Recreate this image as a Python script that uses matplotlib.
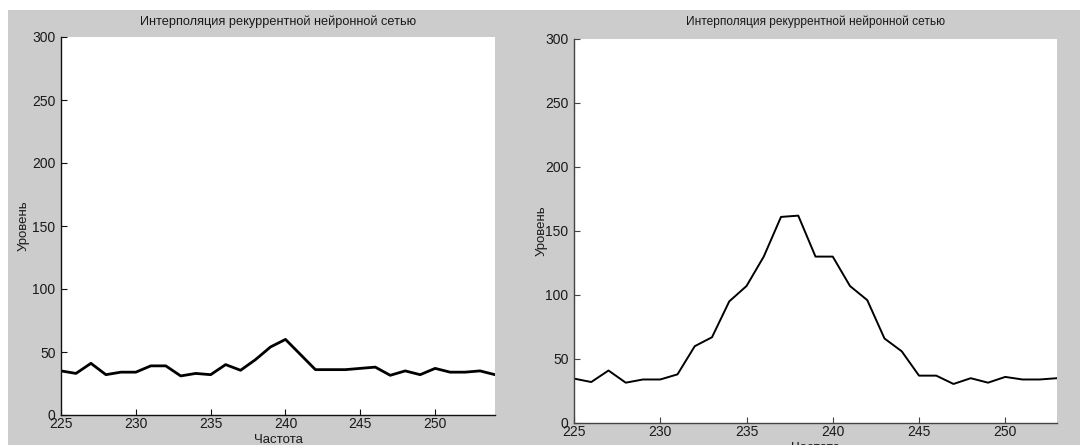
import matplotlib
matplotlib.use("Agg")
import matplotlib.pyplot as plt
from matplotlib.patches import Rectangle

plt.rcParams['font.family'] = ['Liberation Sans', 'DejaVu Sans']

title = "Интерполяция рекуррентной нейронной сетью"
xlabel = "Частота"
ylabel = "Уровень"

freq_left = list(range(225, 255))
level_left = [35, 33, 41, 32, 34, 34, 39, 39, 31, 33,
              32, 40, 35.5, 44, 54, 60, 48, 36, 36, 36,
              37, 38, 31.5, 35, 32, 37, 34, 34, 35, 32]

freq_right = list(range(225, 254))
level_right = [34.7, 32, 41, 31.5, 34, 34, 38, 60, 67, 95,
               107, 130, 161, 162, 130, 130, 107, 96, 66, 56,
               37, 37, 30.5, 35, 31.5, 36, 34, 34, 35]

yticks = [0, 50, 100, 150, 200, 250, 300]
xticks = [225, 230, 235, 240, 245, 250]

W, H = 1080, 445
grey = '#cccccc'
fig = plt.figure(figsize=(W / 100, H / 100), dpi=100, facecolor='white')
fig.patches.append(Rectangle((8 / W, 0), 1 - 8 / W, (H - 10) / H,
                             transform=fig.transFigure, facecolor=grey,
                             edgecolor='none', zorder=-10))


def make_axes(l, t, r, b):
    return fig.add_axes([l / W, (H - b) / H, (r - l) / W, (b - t) / H])


def style(ax, x, y, xmax, lw, tsize, tpad, ylpad, spine_col):
    ax.plot(x, y, color='black', lw=lw, solid_joinstyle='round')
    ax.set_xlim(225, xmax)
    ax.set_ylim(0, 300)
    ax.set_xticks(xticks)
    ax.set_yticks(yticks)
    for s in ['top', 'right']:
        ax.spines[s].set_visible(False)
    for s in ['left', 'bottom']:
        ax.spines[s].set_color(spine_col)
        ax.spines[s].set_linewidth(1.0)
    ax.tick_params(direction='in', length=4, width=0.8, colors=spine_col,
                   labelcolor='#1a1a1a', labelsize=10)
    ax.tick_params(axis='x', pad=1.5)
    ax.tick_params(axis='y', pad=4)
    ax.set_title(title, fontsize=tsize, color='#1a1a1a', pad=tpad)
    ax.set_xlabel(xlabel, fontsize=9.5, color='#1a1a1a', labelpad=2)
    ax.set_ylabel(ylabel, fontsize=9.5, color='#1a1a1a', labelpad=ylpad)
    ax.set_facecolor('white')


ax1 = make_axes(61, 37, 495, 415)
style(ax1, freq_left, level_left, 254, 2.0, 9.2, 9, 2, '#111111')

ax2 = make_axes(574, 39, 1057, 423)
style(ax2, freq_right, level_right, 253, 1.4, 8.6, 10, -1.5, '#444444')

fig.savefig('out.png', dpi=100, facecolor=fig.get_facecolor())
